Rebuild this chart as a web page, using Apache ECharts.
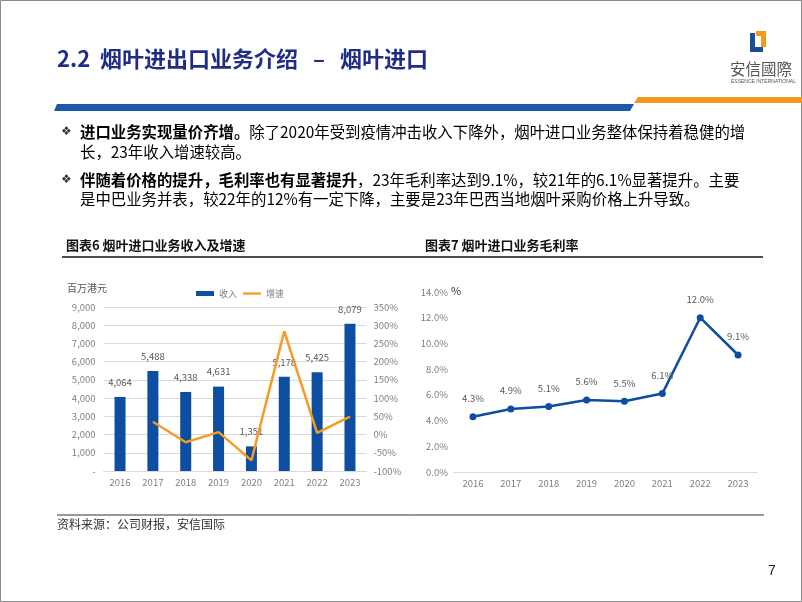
<!DOCTYPE html>
<html><head><meta charset="utf-8">
<script src="https://cdn.jsdelivr.net/npm/echarts@6/dist/echarts.min.js"></script>
<style>html,body{margin:0;padding:0;background:#fff}#c{width:802px;height:602px}</style>
</head><body><div id="c"></div>
<script>
const years = ['2016','2017','2018','2019','2020','2021','2022','2023'];
const revenue = [4064, 5488, 4338, 4631, 1351, 5178, 5425, 8079];
const growth = [null, 35.0, -21.0, 6.8, -70.8, 283.3, 4.8, 48.9];
const margin = [4.3, 4.9, 5.1, 5.6, 5.5, 6.1, 12.0, 9.1];
const revTicks = {min: 0, max: 9000, interval: 1000};
const growthTicks = {min: -100, max: 350, interval: 50};
const marginTicks = {min: 0, max: 14, interval: 2};

const FONT = "'Noto Sans CJK SC', 'Noto Sans', sans-serif";
const chart = echarts.init(document.getElementById('c'), null, {renderer: 'canvas'});
const gray = '#7f7f7f';
const BLUE = '#0d4ea0';
const ORANGE = '#f59a23';

const graphic = [
  {type:'rect', shape:{x:0.5,y:0.5,width:801,height:601}, style:{fill:'none', stroke:'#8a8a8a', lineWidth:1}, silent:true},
  {type:'text', left:57, top:48, style:{text:'2.2  烟叶进出口业务介绍   –   烟叶进口', fill:'#1f2d86', font:"bold 22px " + FONT}},
  {type:'polygon', shape:{points:[[57,104],[634,104],[630,111],[54,111]]}, style:{fill:'#1a5aa6'}},
  {type:'polygon', shape:{points:[[638,97],[802,97],[802,103],[634,103]]}, style:{fill:'#f39a1e'}},
  // logo
  {type:'polygon', shape:{points:[[750,33],[755,33],[755,47],[763,47],[763,52],[750,52]]}, style:{fill:'#1a4e96'}},
  {type:'polygon', shape:{points:[[756,31],[766,31],[766,47],[761,47],[761,36],[756,36]]}, style:{fill:'#f39a1e'}},
  {type:'text', left:730, top:61, style:{text:'安信國際', fill:'#555', font:"15.5px " + FONT}},
  {type:'text', left:731, top:79, style:{text:'ESSENCE INTERNATIONAL', fill:'#555', font:"5px 'Liberation Sans', sans-serif"}},
  // bullets
  {type:'text', left:61, top:126, style:{text:'❖', fill:'#333', font:"12px 'DejaVu Sans'"}},
  {type:'text', left:80, top:124, style:{
    text:'{b|进口业务实现量价齐增。}{n|除了2020年受到疫情冲击收入下降外，烟叶进口业务整体保持着稳健的增}',
    rich:{b:{font:"bold 15.4px " + FONT, fill:'#000'}, n:{font:"15.4px " + FONT, fill:'#000'}}}},
  {type:'text', left:80, top:144, style:{text:'长，23年收入增速较高。', fill:'#000', font:"15.4px " + FONT}},
  {type:'text', left:61, top:174, style:{text:'❖', fill:'#333', font:"12px 'DejaVu Sans'"}},
  {type:'text', left:80, top:172, style:{
    text:'{b|伴随着价格的提升，毛利率也有显著提升}{n|，23年毛利率达到9.1%，较21年的6.1%显著提升。主要}',
    rich:{b:{font:"bold 15.4px " + FONT, fill:'#000'}, n:{font:"15.4px " + FONT, fill:'#000'}}}},
  {type:'text', left:80, top:191, style:{text:'是中巴业务并表，较22年的12%有一定下降，主要是23年巴西当地烟叶采购价格上升导致。', fill:'#000', font:"15.4px " + FONT}},
  // chart titles
  {type:'text', left:66, top:239, style:{text:'图表6 烟叶进口业务收入及增速', fill:'#111', font:"bold 13px " + FONT}},
  {type:'text', left:425, top:239, style:{text:'图表7 烟叶进口业务毛利率', fill:'#111', font:"bold 13px " + FONT}},
  {type:'line', shape:{x1:62,y1:257,x2:763,y2:257}, style:{stroke:'#111', lineWidth:1.5}},
  {type:'text', left:67, top:283, style:{text:'百万港元', fill:'#555', font:"10px " + FONT}},
  {type:'text', left:451, top:285, style:{text:'%', fill:'#333', font:"11px " + FONT}},
  // footer
  {type:'line', shape:{x1:57,y1:515,x2:764,y2:515}, style:{stroke:'#333', lineWidth:1}},
  {type:'text', left:57, top:518, style:{text:'资料来源：公司财报，安信国际', fill:'#333', font:"12px " + FONT}},
  {type:'text', left:768, top:564, style:{text:'7', fill:'#222', font:"14px 'Liberation Sans', sans-serif"}}
];

const axisLabelStyle = {color: gray, fontSize: 9.5, fontFamily: FONT};

chart.setOption({
  animation: false,
  textStyle: {fontFamily: FONT},
  graphic: graphic,
  legend: {
    left: 191, top: 284, itemGap: 6, itemWidth: 18, itemHeight: 5,
    textStyle: {color: gray, fontSize: 9, fontFamily: FONT},
    data: [{name:'收入', icon:'rect'}, {name:'增速', icon:'path://M0,0h24v3h-24z'}]
  },
  grid: [
    {left: 103.6, right: 435.6, top: 307, bottom: 131},
    {left: 454, right: 45, top: 292, bottom: 130}
  ],
  xAxis: [
    {type:'category', gridIndex:0, data: years, axisTick:{show:false},
     axisLine:{lineStyle:{color:'#d9d9d9'}}, axisLabel:Object.assign({margin:7}, axisLabelStyle)},
    {type:'category', gridIndex:1, data: years, axisTick:{show:false},
     axisLine:{lineStyle:{color:'#d9d9d9'}}, axisLabel:Object.assign({margin:7}, axisLabelStyle)}
  ],
  yAxis: [
    {type:'value', gridIndex:0, min:revTicks.min, max:revTicks.max, interval:revTicks.interval,
     axisLine:{show:false}, axisTick:{show:false},
     splitLine:{lineStyle:{color:'#d9d9d9'}},
     axisLabel:Object.assign({margin:8, formatter: v => v === 0 ? '-' : v.toLocaleString('en-US')}, axisLabelStyle)},
    {type:'value', gridIndex:0, min:growthTicks.min, max:growthTicks.max, interval:growthTicks.interval, position:'right',
     axisLine:{show:false}, axisTick:{show:false}, splitLine:{show:false},
     axisLabel:Object.assign({margin:7, formatter: v => v + '%'}, axisLabelStyle)},
    {type:'value', gridIndex:1, min:marginTicks.min, max:marginTicks.max, interval:marginTicks.interval,
     axisLine:{show:false}, axisTick:{show:false}, splitLine:{show:false},
     axisLabel:Object.assign({margin:6, formatter: v => v.toFixed(1) + '%'}, axisLabelStyle)}
  ],
  series: [
    {name:'收入', type:'bar', xAxisIndex:0, yAxisIndex:0, data: revenue, barWidth: 11,
     itemStyle:{color: BLUE},
     label:{show:true, position:'top', distance:10, color:'#595959', fontSize:9.5, fontFamily: FONT,
            formatter: p => p.value.toLocaleString('en-US')}},
    {name:'增速', type:'line', xAxisIndex:0, yAxisIndex:1, data: growth, showSymbol:false, symbol:'none',
     lineStyle:{color: ORANGE, width: 2.5}, itemStyle:{color: ORANGE}, z: 3},
    {name:'毛利率', type:'line', xAxisIndex:1, yAxisIndex:2, data: margin, symbol:'circle', symbolSize:7,
     lineStyle:{color: BLUE, width: 2.5}, itemStyle:{color: BLUE},
     label:{show:true, position:'top', distance:10, color:'#595959', fontSize:9.5, fontFamily: FONT,
            formatter: p => p.value.toFixed(1) + '%'}}
  ]
});
</script>
</body></html>
